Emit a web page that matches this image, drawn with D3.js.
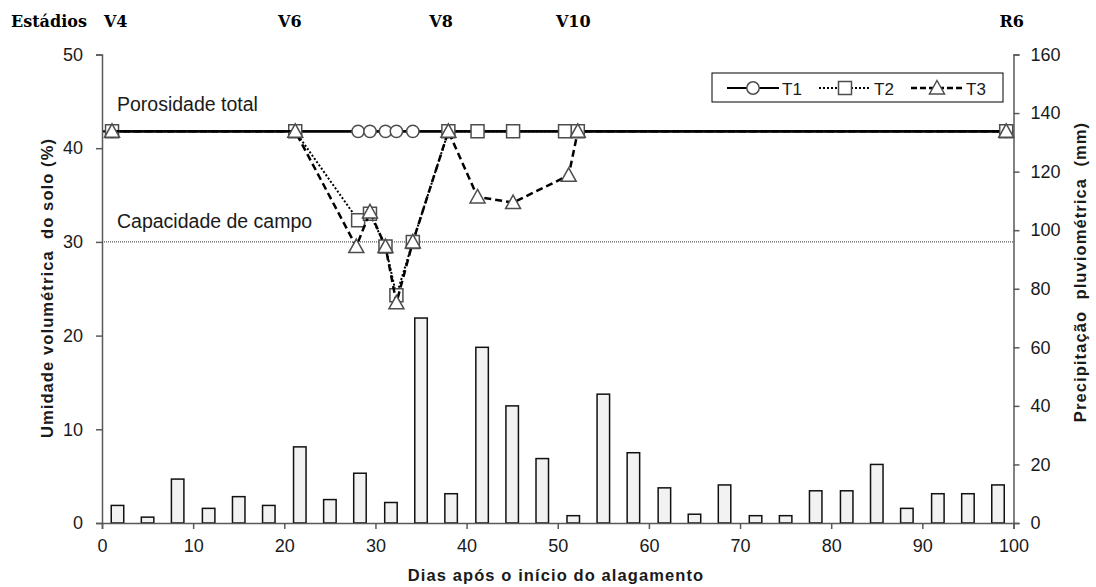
<!DOCTYPE html>
<html>
<head>
<meta charset="utf-8">
<script src="https://cdn.jsdelivr.net/npm/d3@7"></script>
<style>
  body { margin: 0; background: #fff; }
  svg { display: block; font-family: Arial, "Liberation Sans", sans-serif; }
</style>
</head>
<body>
<svg id="chart" width="1096" height="587"></svg>
<script>
// precipitation bars (mm) by day
const rain_days = [1.7, 5, 8.3, 11.7, 15, 18.3, 21.7, 25, 28.3, 31.7, 35, 38.3, 41.7, 45, 48.3,
                   51.7, 55, 58.3, 61.7, 65, 68.3, 71.7, 75, 78.3, 81.7, 85, 88.3, 91.7, 95, 98.3];
const rain_mm = [6, 2, 15, 5, 9, 6, 26, 8, 17, 7, 70, 10, 60, 40, 22,
                 2.5, 44, 24, 12, 3, 13, 2.5, 2.5, 11, 11, 20, 5, 10, 10, 13];

// soil moisture series (%)
const t1_days = [1.1, 21.2, 28.1, 29.4, 31.1, 32.3, 34.1, 38.0, 41.2, 45.1, 50.8, 52.2, 99.2];
const t1_vals = [41.8, 41.8, 41.8, 41.8, 41.8, 41.8, 41.8, 41.8, 41.8, 41.8, 41.8, 41.8, 41.8];
const t2_days = [1.1, 21.2, 28.1, 29.4, 31.1, 32.3, 34.1, 38.0, 41.2, 45.1, 50.8, 52.2, 99.2];
const t2_vals = [41.8, 41.8, 32.3, 33.0, 29.5, 24.3, 30.0, 41.8, 41.8, 41.8, 41.8, 41.8, 41.8];
const t3_days = [1.1, 21.2, 27.9, 29.4, 31.1, 32.3, 34.1, 38.0, 41.2, 45.1, 51.2, 52.2, 99.2];
const t3_vals = [41.8, 41.8, 29.5, 33.2, 29.5, 23.5, 30.0, 41.8, 34.8, 34.2, 37.1, 41.8, 41.8];

const porosity = 41.8;
const field_capacity = 30;

const stage_names = ["V4", "V6", "V8", "V10", "R6"];
const stage_days = [1.5, 20.6, 37.2, 51.7, 99.8];

const x_ticks = [0, 10, 20, 30, 40, 50, 60, 70, 80, 90, 100];
const left_ticks = [0, 10, 20, 30, 40, 50];
const right_ticks = [0, 20, 40, 60, 80, 100, 120, 140, 160];

const svg = d3.select("#chart");
const margins = {top: 54.5, bottom: 64, left: 102, right: 82.5};
const width = 1096, height = 587;
const axis_color = "#595959";
const text_color = "#1a1a1a";

const x_scale = d3.scaleLinear().domain([0, 100]).range([margins.left, width - margins.right]);
const y_scale = d3.scaleLinear().domain([0, 50]).range([height - margins.bottom, margins.top]);
const y2_scale = d3.scaleLinear().domain([0, 160]).range([height - margins.bottom, margins.top]);

// bars
const bar_w = 12.5;
svg.append("g").selectAll("rect")
    .data(rain_mm)
    .enter()
    .append("rect")
    .attr("x", (d, i) => x_scale(rain_days[i]) - bar_w / 2)
    .attr("y", d => y2_scale(d))
    .attr("width", bar_w)
    .attr("height", d => y2_scale(0) - y2_scale(d))
    .style("fill", "#f2f2f2")
    .style("stroke", "#111")
    .style("stroke-width", 1.5);

// reference lines
svg.append("line")
    .attr("x1", x_scale(0)).attr("x2", x_scale(100))
    .attr("y1", y_scale(field_capacity)).attr("y2", y_scale(field_capacity))
    .style("stroke", "#333").style("stroke-width", 1)
    .style("stroke-dasharray", "1,1");

svg.append("line")
    .attr("x1", x_scale(0)).attr("x2", x_scale(100))
    .attr("y1", y_scale(porosity)).attr("y2", y_scale(porosity))
    .style("stroke", "#000").style("stroke-width", 2.2);

svg.append("text")
    .attr("x", 117).attr("y", 111)
    .style("font-size", "19.5px").style("fill", text_color)
    .text("Porosidade total");

svg.append("text")
    .attr("x", 117).attr("y", 228)
    .style("font-size", "19.5px").style("fill", text_color)
    .text("Capacidade de campo");

// axes
const x_axis = svg.append("g")
    .attr("transform", `translate(0, ${y_scale(0)})`)
    .call(d3.axisBottom(x_scale).tickValues(x_ticks).tickSizeOuter(0).tickSize(6).tickPadding(10));

const y_axis = svg.append("g")
    .attr("transform", `translate(${x_scale(0)}, 0)`)
    .call(d3.axisLeft(y_scale).tickValues(left_ticks).tickSizeOuter(0).tickSize(6).tickPadding(13));

const y2_axis = svg.append("g")
    .attr("transform", `translate(${x_scale(100)}, 0)`)
    .call(d3.axisRight(y2_scale).tickValues(right_ticks).tickSizeOuter(0).tickSize(6).tickPadding(11));

[x_axis, y_axis, y2_axis].forEach(a => {
  a.select(".domain").style("stroke", axis_color).style("stroke-width", 1.5);
  a.selectAll(".tick line").style("stroke", axis_color).style("stroke-width", 1.5);
  a.selectAll(".tick text").style("font-size", "18px").style("fill", text_color)
    .style("font-family", "Arial, 'Liberation Sans', sans-serif");
});

// series
const line = d3.line()
    .x(d => x_scale(d[0]))
    .y(d => y_scale(d[1]));

const pts = (days, vals) => days.map((d, i) => [d, vals[i]]);

const marker_stroke = "#4d4d4d";

function draw_series(data, dash, width_px, shape){
  svg.append("path")
      .attr("d", line(data))
      .style("fill", "none")
      .style("stroke", "#000")
      .style("stroke-width", width_px)
      .style("stroke-dasharray", dash);

  svg.append("g").selectAll("path")
      .data(data)
      .enter()
      .append("path")
      .attr("transform", d => `translate(${x_scale(d[0])}, ${y_scale(d[1])})`)
      .attr("d", shape)
      .style("fill", "#fff")
      .style("stroke", marker_stroke)
      .style("stroke-width", 1.5);
}

const circle_shape = d3.symbol().type(d3.symbolCircle).size(120)();
const square_shape = "M-6.5,-6.5H6.5V6.5H-6.5Z";
const triangle_shape = "M0,-7.5L7.5,6L-7.5,6Z";

draw_series(pts(t1_days, t1_vals), null, 2.2, circle_shape);
draw_series(pts(t2_days, t2_vals), "2,2", 2, square_shape);
draw_series(pts(t3_days, t3_vals), "7,4", 2.5, triangle_shape);

// legend
const legend = svg.append("g");
legend.append("rect")
    .attr("x", 712).attr("y", 73).attr("width", 291).attr("height", 29)
    .style("fill", "#fff").style("stroke", "#000").style("stroke-width", 1);

const legend_items = [
  {name: "T1", dash: null, w: 2.2, shape: circle_shape, x: 727},
  {name: "T2", dash: "2,2", w: 2, shape: square_shape, x: 819},
  {name: "T3", dash: "6,3", w: 2.5, shape: triangle_shape, x: 911}
];
legend_items.forEach(item => {
  legend.append("line")
      .attr("x1", item.x).attr("x2", item.x + 52)
      .attr("y1", 88).attr("y2", 88)
      .style("stroke", "#000").style("stroke-width", item.w)
      .style("stroke-dasharray", item.dash);
  legend.append("path")
      .attr("transform", `translate(${item.x + 26}, 88)`)
      .attr("d", item.shape)
      .style("fill", "#fff").style("stroke", marker_stroke).style("stroke-width", 1.5);
  legend.append("text")
      .attr("x", item.x + 55).attr("y", 94.5)
      .style("font-size", "17px").style("fill", text_color)
      .text(item.name);
});

// axis titles
const title_style = (t) => t
    .style("font-size", "16.5px").style("font-weight", "bold").style("fill", text_color)
    .style("letter-spacing", "1.1px").style("white-space", "pre");

svg.append("text")
    .attr("text-anchor", "middle")
    .attr("transform", `translate(53, 288) rotate(-90)`)
    .call(title_style)
    .text("Umidade volumétrica  do solo (%)");

svg.append("text")
    .attr("text-anchor", "middle")
    .attr("transform", `translate(1086, 272) rotate(-90)`)
    .call(title_style)
    .text("Precipitação  pluviométrica  (mm)");

svg.append("text")
    .attr("text-anchor", "middle")
    .attr("x", 556).attr("y", 581)
    .call(title_style)
    .text("Dias após o início do alagamento");

// stage labels
const stage_font = "'DejaVu Serif', 'Liberation Serif', serif";
svg.append("text")
    .attr("x", 11).attr("y", 27)
    .style("font-family", stage_font).style("font-size", "16px").style("font-weight", "bold")
    .text("Estádios");

svg.append("g").selectAll("text")
    .data(stage_names)
    .enter()
    .append("text")
    .attr("x", (d, i) => x_scale(stage_days[i]))
    .attr("y", 27)
    .attr("text-anchor", "middle")
    .style("font-family", stage_font).style("font-size", "16px").style("font-weight", "bold")
    .text(d => d);
</script>
</body>
</html>
